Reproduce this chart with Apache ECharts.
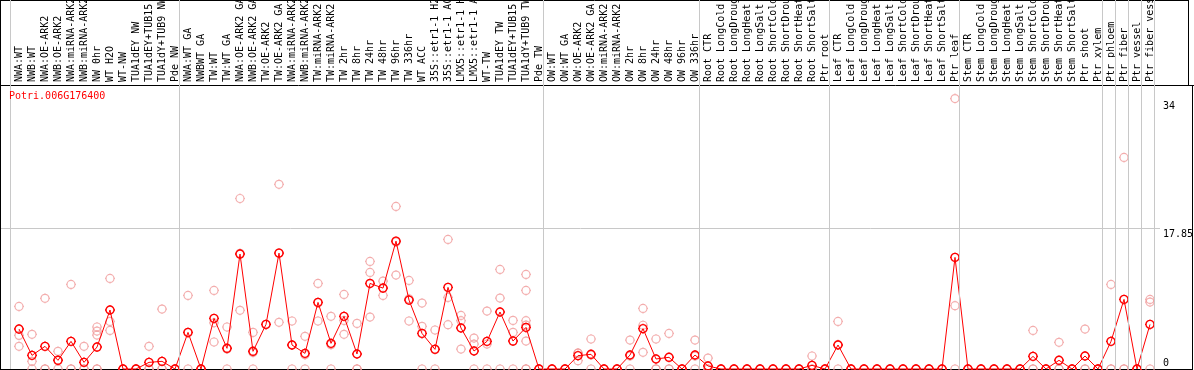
<!DOCTYPE html>
<html><head><meta charset="utf-8">
<script src="https://cdn.jsdelivr.net/npm/echarts@6/dist/echarts.min.js"></script>
<style>html,body{margin:0;padding:0;background:#fff}#c{width:1194px;height:370px}</style>
</head><body><div id="c"></div>
<script>
const geneName = 'Potri.006G176400';
const categories = [
 'NWA:WT','NWB:WT','NWA:OE-ARK2','NWB:OE-ARK2','NWA:miRNA-ARK2','NWB:miRNA-ARK2','NW 0hr','WT H2O','WT-NW','TUA1dEY NW','TUA1dEY+TUB15 NW','TUA1dY+TUB9 NW','Pde NW',
 'NWA:WT GA','NWBWT GA','TW:WT','TW:WT GA','NWA:OE-ARK2 GA','NWB:OE-ARK2 GA','TW:OE-ARK2','TW:OE-ARK2 GA','NWA:miRNA-ARK2','NWB:miRNA-ARK2','TW:miRNA-ARK2','TW:miRNA-ARK2','TW 2hr','TW 8hr','TW 24hr','TW 48hr','TW 96hr','TW 336hr','WT ACC','35S::etr1-1 H2O','35S::etr1-1 ACC','LMX5::etr1-1 H2O','LMX5::etr1-1 ACC','WT-TW','TUA1dEY TW','TUA1dEY+TUB15 TW','TUA1dY+TUB9 TW','Pde TW',
 'OW:WT','OW:WT GA','OW:OE-ARK2','OW:OE-ARK2 GA','OW:miRNA-ARK2','OW:miRNA-ARK2','OW 2hr','OW 8hr','OW 24hr','OW 48hr','OW 96hr','OW 336hr',
 'Root CTR','Root LongCold','Root LongDrought','Root LongHeat','Root LongSalt','Root ShortCold','Root ShortDrought','Root ShortHeat','Root ShortSalt','Ptr root',
 'Leaf CTR','Leaf LongCold','Leaf LongDrought','Leaf LongHeat','Leaf LongSalt','Leaf ShortCold','Leaf ShortDrought','Leaf ShortHeat','Leaf ShortSalt','Ptr leaf',
 'Stem CTR','Stem LongCold','Stem LongDrought','Stem LongHeat','Stem LongSalt','Stem ShortCold','Stem ShortDrought','Stem ShortHeat','Stem ShortSalt','Ptr shoot','Ptr xylem',
 'Ptr phloem','Ptr fiber','Ptr vessel','Ptr fiber vessel'
];
const meanValues = [
 5.06,1.73,2.87,1.10,3.50,0.84,2.78,7.47,0,0,0.84,0.97,0,
 4.64,0,6.41,2.62,14.56,2.24,5.65,14.68,3.04,1.98,8.44,3.25,6.67,1.90,10.84,10.25,16.2,8.73,4.51,2.49,10.34,5.19,2.28,3.50,7.22,3.54,5.27,0,
 0,0,1.69,1.86,0,0,1.77,5.11,1.27,1.48,0,1.77,
 0.38,0,0,0,0,0,0,0,0.46,0,
 3.04,0,0,0,0,0,0,0,0,14.14,
 0,0,0,0,0,1.60,0,1.10,0,1.65,0,
 3.50,8.82,0,5.65
];
const replicateValues = [
 [7.93,4.26,2.87],[4.39,0.97,0],[8.95,0,0],[2.24,1.1,0],[10.72,0,0],[2.87,0,0],[5.32,4.81,4.30,0,0],[11.48,6.03,4.89],[0,0,0],[0,0,0],[2.87,0,0],[7.59,0,0],[0,0,0],
 [9.32,4.6,0],[0,0,0],[9.96,5.85,3.42],[5.32,2.54,0],[21.6,14.65,7.43],[4.64,2.08,0],[5.65],[23.4,14.7,5.91],[6.08,3.03,0],[4.14,1.8,0],[10.84,8.4,6.08],[6.67,3.08,0],[9.45,6.16,4.39],[5.78,0,0],[13.63,12.24,6.58],[11.14,10.29,9.32],[20.6,16.1,11.9],[11.22,8.89,6.08],[8.35,5.4,0],[4.94,2.53,0],[16.41,9.07,5.61],[6.79,6.12,2.53],[3.92,3.16,0],[7.34,3.16,0],[12.62,8.99,0],[6.16,4.64,0],[11.98,9.96,6.12,5.57,3.54,0,0],[0,0,0],
 [0,0,0],[0,0,0],[2.03,2.0,1.05],[3.80,1.78,0],[0,0,0],[0,0,0],[3.67,1.64,0],[7.68,5.54,2.11],[3.80,0,0],[4.51,0,0],[0,0,0],[3.67,1.64,0],
 [1.39,0,0],[0,0,0],[0,0,0],[0,0,0],[0,0,0],[0,0,0],[0,0,0],[0,0,0],[1.65,0,0],[0,0,0],
 [6.03,3.09,0],[0,0,0],[0,0,0],[0,0,0],[0,0,0],[0,0,0],[0,0,0],[0,0,0],[0,0,0],[34.26,8.02,0],
 [0,0,0],[0,0,0],[0,0,0],[0,0,0],[0,0,0],[4.89,0,0],[0,0,0],[3.38,0,0],[0,0,0],[5.06,0,0],[0,0,0],
 [10.72,0,0],[26.8,0,0],[0,0,0],[8.82,8.48,0]
];
const yTickValues = [0, 17.85, 34];
const groupBoundaries = [0,13,41,53,63,73,84,85,86,87,88];

const FONT = '"DejaVu Sans Mono", "Liberation Mono", monospace';
// circle radius 4 centred in a 10x10 box, with four short ticks
const markerPath = 'path://M1,5C1,2.791 2.791,1 5,1C7.209,1 9,2.791 9,5C9,7.209 7.209,9 5,9C2.791,9 1,7.209 1,5Z' +
  'M5,0L5,1M5,9L5,10M0,5L1,5M9,5L10,5';

const chart = echarts.init(document.getElementById('c'), null, {renderer: 'canvas'});
const replicatePoints = [];
replicateValues.forEach((arr, i) => arr.forEach(v => replicatePoints.push([i, v])));

const option = {
  animation: false,
  backgroundColor: '#fff',
  title: {
    text: geneName, left: 9, top: 91, padding: 0,
    textStyle: {color: '#ff0000', fontFamily: FONT, fontSize: 10, fontWeight: 'normal'}
  },
  grid: [
    {left: 12.5, right: 37.5, top: 88, bottom: 1, containLabel: false, outerBoundsMode: 'none'},
    {left: 10.5, right: 39.5, top: 0, bottom: 1, containLabel: false, outerBoundsMode: 'none'}
  ],
  xAxis: [
    {type: 'category', gridIndex: 0, data: categories, position: 'top', boundaryGap: true,
     axisLine: {show: false}, axisTick: {show: false}, splitLine: {show: false},
     axisLabel: {interval: 0, rotate: 90, margin: 6, fontFamily: FONT, fontSize: 10, color: '#000', hideOverlap: false}},
    {type: 'value', gridIndex: 1, min: 0, max: 88, show: false}
  ],
  yAxis: [
    {type: 'value', gridIndex: 0, min: 0, max: 35.6, show: false},
    {type: 'value', gridIndex: 1, min: 0, max: 1, show: false}
  ],
  series: [
    {type: 'line', xAxisIndex: 1, yAxisIndex: 1, data: [[0, 0]], symbol: 'none',
     lineStyle: {width: 0, opacity: 0}, silent: true, z: 1,
     markLine: {silent: true, symbol: ['none', 'none'], label: {show: false},
       lineStyle: {color: '#c8c8c8', width: 1, type: 'solid'},
       data: groupBoundaries.map(b => ({xAxis: b}))}},
    {type: 'scatter', xAxisIndex: 0, yAxisIndex: 0, data: replicatePoints, symbol: markerPath,
     symbolSize: 10, symbolKeepAspect: true, clip: false, silent: true, z: 2,
     itemStyle: {color: 'rgba(0,0,0,0)', borderColor: '#f09a9a', borderWidth: 1.2}},
    {type: 'line', xAxisIndex: 0, yAxisIndex: 0, data: meanValues, symbol: markerPath,
     symbolSize: 10, symbolKeepAspect: true, showAllSymbol: true, clip: false, silent: true, z: 3,
     lineStyle: {color: '#ff0000', width: 1},
     itemStyle: {color: 'rgba(0,0,0,0)', borderColor: '#ff0000', borderWidth: 1.4}}
  ]
};
chart.setOption(option);

const yAt = v => chart.convertToPixel({xAxisIndex: 0, yAxisIndex: 0}, [0, v])[1];
const gridLineY = Math.round(yAt(17.85)) + 0.5;
const graphics = [
  {type: 'line', shape: {x1: 1, y1: gridLineY, x2: 1160, y2: gridLineY}, style: {stroke: '#c8c8c8', lineWidth: 1}, z: 0},
  {type: 'line', shape: {x1: 0.5, y1: 0, x2: 0.5, y2: 370}, style: {stroke: '#000', lineWidth: 1}},
  {type: 'line', shape: {x1: 0, y1: 0.5, x2: 1189, y2: 0.5}, style: {stroke: '#000', lineWidth: 1}},
  {type: 'line', shape: {x1: 0, y1: 85.5, x2: 1194, y2: 85.5}, style: {stroke: '#000', lineWidth: 1}},
  {type: 'line', shape: {x1: 1188.5, y1: 0, x2: 1188.5, y2: 86}, style: {stroke: '#000', lineWidth: 1}},
  {type: 'line', shape: {x1: 1192.5, y1: 85, x2: 1192.5, y2: 370}, style: {stroke: '#000', lineWidth: 1}},
  {type: 'line', shape: {x1: 0, y1: 369.5, x2: 1193, y2: 369.5}, style: {stroke: '#000', lineWidth: 1}}
];
yTickValues.forEach(v => {
  const y = yAt(v);
  graphics.push({type: 'text', x: 1163, y: v === 0 ? y - 1 : y + 1, z: 5,
    style: {text: String(v), fill: '#000', font: '10px ' + FONT, textAlign: 'left',
            textVerticalAlign: v === 0 ? 'bottom' : 'top', verticalAlign: v === 0 ? 'bottom' : 'top'}});
});
chart.setOption({graphic: graphics});
</script></body></html>
